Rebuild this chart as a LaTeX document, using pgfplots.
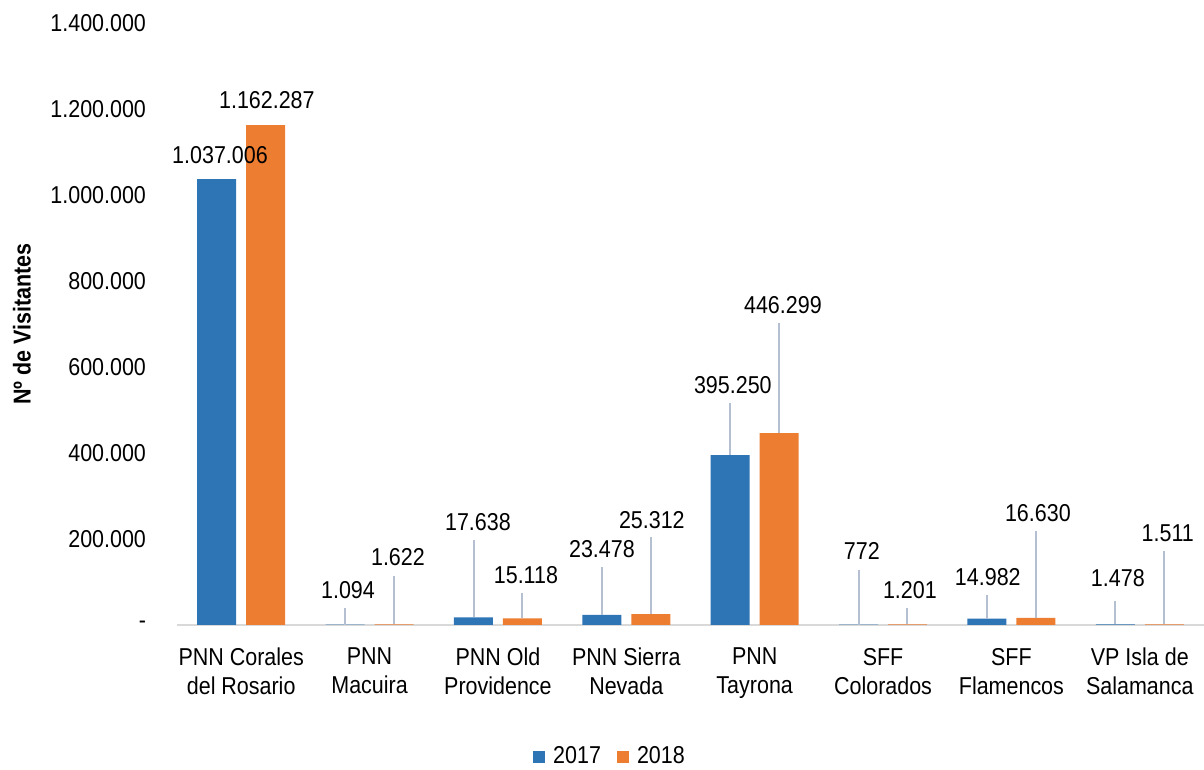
\documentclass[border=0pt]{standalone}
\usepackage{fontspec}
\setmainfont{Liberation Sans}[FakeStretch=0.88]
\usepackage{pgfplots}
\pgfplotsset{compat=1.18}
\definecolor{cblue}{HTML}{2E75B6}
\definecolor{corange}{HTML}{ED7D31}
\definecolor{leader}{HTML}{B4C0D2}
\definecolor{axisgray}{HTML}{D9D9D9}
\newcommand{\fs}{\fontsize{12.2}{14.5}\selectfont}
% line x, label x, bar value, line top, label y, text
\newcommand{\lbl}[6]{%
  \draw[leader, line width=1pt] (axis cs:#1,#3) -- (axis cs:#1,#4);
  \node[font=\fs, inner sep=0pt] at (axis cs:#2,#5) {#6};}
\begin{document}
\begin{tikzpicture}
\begin{axis}[
  scale only axis, width=513.5pt, height=301pt,
  ybar=5pt, bar width=19.5pt,
  xmin=-0.5, xmax=7.5, ymin=0, ymax=1400000,
  xtick={0,1,2,3,4,5,6,7},
  xticklabels={{PNN Corales\\del Rosario},{PNN\\Macuira},{PNN Old\\Providence},{PNN Sierra\\Nevada},{PNN\\Tayrona},{SFF\\Colorados},{SFF\\Flamencos},{VP Isla de\\Salamanca}},
  x tick label style={align=center, font=\fs, yshift=-8pt},
  ytick={0,200000,400000,600000,800000,1000000,1200000,1400000},
  yticklabels={-,200.000,400.000,600.000,800.000,1.000.000,1.200.000,1.400.000},
  y tick label style={font=\fs, xshift=-12pt},
  scaled y ticks=false,
  major tick length=0pt,
  axis x line*=bottom, axis y line*=left,
  x axis line style={draw=axisgray, line width=1.25pt, -},
  y axis line style={draw=none},
  ylabel={Nº de Visitantes},
  every axis y label/.style={at={(axis description cs:-0.151,0.5)}, rotate=90, anchor=center, font=\bfseries\fs},
  legend style={at={(axis description cs:0.4226,-0.219)}, anchor=center, draw=none, legend columns=2, font=\fs,
    /tikz/every odd column/.append style={column sep=2pt},
    /tikz/every even column/.append style={column sep=6pt}},
  clip=false,
]
\addplot[fill=cblue, draw=none, legend image code/.code={\fill[cblue] (0pt,-3pt) rectangle (6pt,3pt);}] coordinates {
  (0,1037006) (1,1094) (2,17638) (3,23478) (4,395250) (5,772) (6,14982) (7,1478)};
\addlegendentry{2017}
\addplot[fill=corange, draw=none, legend image code/.code={\fill[corange] (0pt,-3pt) rectangle (6pt,3pt);}] coordinates {
  (0,1162287) (1,1622) (2,15118) (3,25312) (4,446299) (5,1201) (6,16630) (7,1511)};
\addlegendentry{2018}
\node[font=\fs, inner sep=0pt] at (axis cs:-0.165,1093000) {1.037.006};
\node[font=\fs, inner sep=0pt] at (axis cs:0.20,1221000) {1.162.287};
\lbl{0.81}{0.832}{1094}{39500}{81400}{1.094}
\lbl{1.19}{1.221}{1622}{114000}{158100}{1.622}
\lbl{1.81}{1.844}{17638}{197700}{239500}{17.638}
\lbl{2.19}{2.218}{15118}{74400}{116300}{15.118}
\lbl{2.81}{2.81}{23478}{134900}{176700}{23.478}
\lbl{3.19}{3.199}{25312}{204600}{244200}{25.312}
\lbl{3.81}{3.83}{395250}{516300}{558100}{395.250}
\lbl{4.19}{4.22}{446299}{702300}{744200}{446.299}
\lbl{4.81}{4.835}{772}{127900}{172100}{772}
\lbl{5.19}{5.209}{1201}{39500}{81400}{1.201}
\lbl{5.81}{5.816}{14982}{69800}{111600}{14.982}
\lbl{6.19}{6.206}{16630}{218600}{260500}{16.630}
\lbl{6.81}{6.829}{1478}{55800}{109300}{1.478}
\lbl{7.19}{7.218}{1511}{172100}{214000}{1.511}
\end{axis}
\pgfresetboundingbox
\path ([xshift=-88.5pt,yshift=-72.5pt]current axis.south west) rectangle ([xshift=513.5pt,yshift=312.5pt]current axis.south west);
\end{tikzpicture}
\end{document}
